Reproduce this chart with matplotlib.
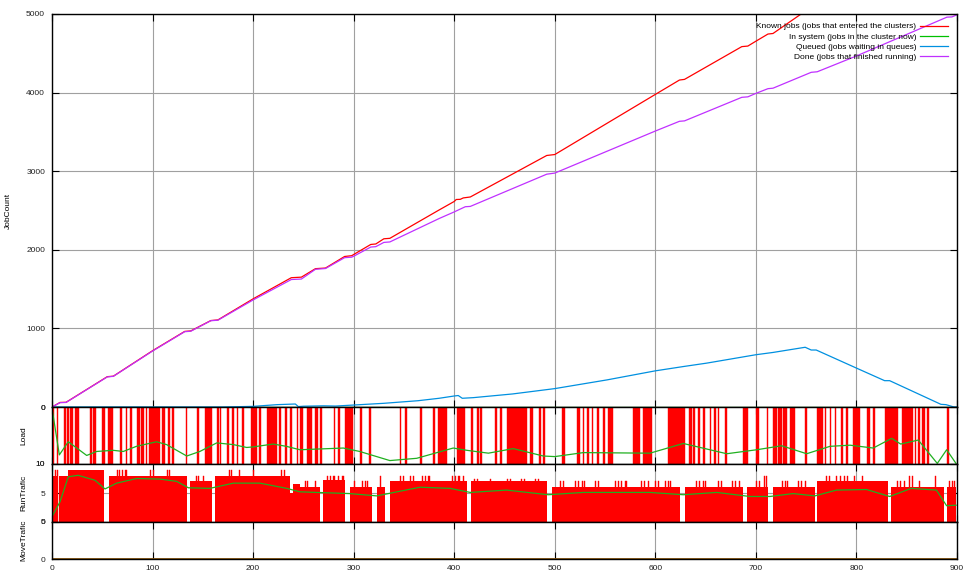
import matplotlib.pyplot as plt

plt.rcParams['font.family'] = ['Liberation Sans', 'DejaVu Sans']
plt.rcParams['font.size'] = 6

# --- job counters (top panel) ---
known_x = [0, 8, 14, 55, 61, 100, 132, 138, 158, 165, 200, 238, 248, 262, 272,
           291, 298, 300, 317, 322, 330, 336, 385, 400, 402, 406, 409, 416, 492,
           500, 600, 624, 629, 686, 692, 700, 712, 717, 745, 900]
known_y = [0, 58, 60, 386, 392, 716, 962, 968, 1100, 1108, 1376, 1645, 1652,
           1760, 1768, 1915, 1925, 1940, 2068, 2074, 2140, 2146, 2507, 2615,
           2640, 2642, 2660, 2672, 3200, 3212, 3977, 4160, 4168, 4585, 4592,
           4654, 4745, 4752, 5000, 6200]

system_x = [0, 900]
system_y = [0, 0]

queued_x = [0, 170, 200, 224, 242, 245, 250, 270, 282, 300, 330, 364, 385, 400,
            404, 408, 419, 458, 500, 552, 600, 628, 651, 700, 717, 749, 755, 760,
            800, 828, 833, 884, 889, 897, 900]
queued_y = [0, 0, 8, 30, 38, 5, 10, 15, 12, 25, 47, 80, 111, 140, 146, 111, 119,
            166, 234, 345, 460, 515, 558, 665, 694, 760, 725, 725, 495, 335, 335,
            34, 30, 0, 0]

done_x = [0, 8, 14, 55, 61, 100, 132, 138, 158, 165, 200, 238, 248, 262, 272,
          291, 298, 300, 317, 322, 330, 336, 385, 400, 411, 416, 492, 500, 600,
          624, 629, 686, 692, 700, 712, 717, 755, 761, 800, 890, 895, 900]
done_y = [0, 55, 58, 383, 390, 712, 958, 964, 1098, 1104, 1362, 1622, 1628,
          1752, 1762, 1900, 1906, 1918, 2035, 2040, 2094, 2100, 2398, 2482,
          2548, 2552, 2962, 2976, 3511, 3635, 3640, 3940, 3946, 3990, 4050,
          4056, 4258, 4265, 4466, 4960, 4963, 4990]

# --- load: intervals with a busy node, plus smoothed load ---
load_spans = [(0, 2), (4.7, 6), (12, 14), (14.6, 16.6), (18, 21), (23, 27),
              (38, 40), (41, 44), (50, 53), (56, 61), (68, 70), (73.5, 75),
              (77.5, 79.5), (84.8, 87.5), (89, 91.5), (93, 94.5), (96, 107.4),
              (109, 112), (115, 117), (119, 121), (133, 134.5), (144, 146),
              (152.5, 158.8), (163.8, 165.8), (167, 168), (173.7, 176.3),
              (179, 181.3), (183.6, 185), (189, 191), (197.6, 203.6),
              (206, 207.5), (213.5, 223.5), (226, 227.5), (231.7, 234),
              (236.7, 238.3), (243.3, 245), (246.6, 249.3), (253.3, 258.2),
              (261.5, 264.8), (267, 269), (280, 281.3), (284, 286),
              (291.4, 299.6), (306.3, 308), (315.2, 317), (346, 347.4),
              (351, 352.7), (366, 368), (379.2, 380.9), (384, 392.5),
              (402.4, 410.7), (416.4, 418.4), (422.5, 424.2), (425.8, 427.5),
              (440.5, 442.2), (445.4, 447.1), (452.2, 472), (475.3, 478.6),
              (484.6, 486), (488.5, 490.2), (506.8, 510.2), (522.4, 525),
              (527.7, 529.4), (531.8, 533.8), (536.8, 538.5), (541.8, 543.5),
              (548.3, 550.3), (553.3, 558.2), (578, 584.7), (588, 596.3),
              (612.9, 629.5), (633, 636), (637.5, 639), (642.3, 644),
              (647.2, 648.9), (653.9, 655.5), (658.8, 660.5), (662, 663.8),
              (669.7, 671.4), (686.8, 692.4), (700, 703.4), (710.6, 712.2),
              (716.6, 720.6), (722.2, 725.5), (727.2, 730.5), (733.9, 738.9),
              (748.8, 750.5), (760.4, 767), (768.4, 770), (773.4, 775),
              (778.4, 780), (785, 786.7), (790, 791.6), (796.9, 803.5),
              (810.8, 813.4), (816, 818.5), (828.3, 841.6), (845, 856.5),
              (858, 859.7), (861, 863.6), (865, 868.4), (870, 871.7),
              (889.7, 892.3)]
load_level = 10

load_avg_x = [0, 7.3, 16.2, 34.5, 44.4, 60.9, 70.9, 84, 104, 114, 134, 147,
              163.8, 180.4, 193.6, 200, 220, 233, 246.6, 289.7, 306, 336,
              362.7, 399, 412.6, 434, 458.7, 488.6, 500, 528.4, 594.7, 627.8,
              671, 700.8, 725.6, 750.5, 773.7, 793.6, 816.7, 835, 844, 861.5,
              880.4, 889.7, 899]
load_avg_y = [0.2, 8.4, 6.1, 8.5, 7.8, 7.6, 7.8, 6.9, 6.1, 6.6, 8.6, 7.8, 6.3,
              6.6, 7.1, 7.0, 6.5, 6.9, 7.5, 7.2, 7.8, 9.4, 9.0, 7.2, 7.6, 8.1,
              7.3, 8.6, 8.7, 8.0, 8.1, 6.4, 8.2, 7.5, 6.8, 8.2, 6.9, 6.7, 7.2,
              5.5, 6.5, 5.8, 9.9, 7.5, 9.9]

# --- run traffic: blocks of running jobs, taller bursts, and average ---
run_blocks = [(0, 6, 7.9), (7, 16, 7.9), (16, 51.7, 8.9), (56.4, 134, 7.9),
              (137.6, 158.8, 7.0), (162, 236.7, 7.9), (236.7, 240, 5.0),
              (240, 246.7, 6.5), (246.7, 266.5, 6.1), (269.5, 291.4, 7.2),
              (296.3, 318, 6.1), (323, 331.5, 6.1), (336, 412.4, 7.0),
              (416.3, 491.9, 7.0), (496.9, 625, 6.1), (629.5, 687.5, 6.1),
              (691.4, 712.3, 6.1), (717.3, 758.7, 6.1), (761, 831.5, 7.0),
              (834, 887, 6.1), (889.7, 899, 6.1)]
run_bursts = [(3, 4, 8.9), (5, 6, 8.9), (64.6, 65.6, 8.9), (67, 68, 8.9),
              (70, 71, 8.9), (73, 74.5, 8.9), (97.5, 98.5, 8.9), (100, 101, 8.9),
              (114, 115, 8.9), (116.6, 117.6, 8.9), (143, 144, 7.9),
              (145, 146, 7.9), (150, 151, 7.9), (176, 177, 8.9), (178, 179, 8.9),
              (186, 187, 8.9), (200, 201, 8.9), (228, 229, 8.9),
              (231, 232, 8.9), (252, 253, 7.0), (254, 255, 7.0), (262, 263, 7.0),
              (273, 274, 7.9), (276, 277, 7.9), (279, 281, 7.9), (284, 285, 7.9),
              (288, 290, 7.9), (300, 301, 7.0), (308, 309, 7.0), (311, 312, 7.0),
              (313, 314, 7.0), (326, 327, 7.9), (346, 347, 7.9), (349, 350, 7.9),
              (356, 357, 7.9), (359, 360, 7.9), (368, 369, 7.9), (371, 372, 7.9),
              (374, 376, 7.9), (398, 399, 7.9), (401, 402, 7.9), (404, 406, 7.9),
              (409, 410, 7.9), (420, 421, 7.4), (423, 424, 7.4), (436, 437, 7.4),
              (452, 453, 7.4), (455, 456, 7.4), (466, 467, 7.4), (469, 470, 7.4),
              (480, 481, 7.4), (483, 484, 7.4), (505, 506, 7.0), (508, 509, 7.0),
              (520, 521, 7.0), (523, 524, 7.0), (527, 528, 7.0), (529, 530, 7.0),
              (540, 541, 7.0), (543, 544, 7.0), (560, 561, 7.0), (563, 564, 7.0),
              (566, 567, 7.0), (570, 572, 7.0), (586, 587, 7.0), (589, 590, 7.0),
              (593, 594, 7.0), (600, 601, 7.0), (603, 604, 7.0), (610, 611, 7.0),
              (613, 614, 7.0), (615, 616, 7.0), (640, 641, 7.0), (643, 644, 7.0),
              (647, 648, 7.0), (649, 650, 7.0), (662, 663, 7.0), (665, 666, 7.0),
              (676, 677, 7.0), (679, 680, 7.0), (683, 684, 7.0), (700, 701, 7.0),
              (703, 704, 7.0), (708, 709, 7.9), (710, 711, 7.9), (726, 727, 7.0),
              (729, 730, 7.0), (731, 732, 7.0), (742, 743, 7.0), (745, 746, 7.0),
              (749, 750, 7.0), (770, 771, 7.9), (773, 774, 7.9), (780, 781, 7.9),
              (784, 785, 7.9), (788, 789, 7.9), (791, 792, 7.9), (798, 799, 7.9),
              (806, 807, 7.9), (840, 841, 7.0), (843, 844, 7.0), (847, 848, 7.0),
              (852, 853, 7.9), (855, 856, 7.9), (862, 863, 7.0), (878, 879, 7.9),
              (892, 893, 7.0), (895, 896, 7.0), (897, 898, 7.0)]

run_avg_x = [0, 8, 16.2, 26, 42.7, 52.7, 64.3, 84.2, 107.4, 124, 135.6, 157,
             180.4, 206.8, 233.4, 246.6, 296, 323, 366, 395.7, 416, 452, 493.5,
             528.4, 594.7, 627.8, 661, 694, 714, 737, 758.7, 780, 810, 833,
             854.6, 879.5, 889.7, 899]
run_avg_y = [0.9, 3.5, 7.8, 8.05, 7.2, 5.7, 6.7, 7.5, 7.4, 7.0, 5.9, 5.8, 6.7,
             6.7, 5.8, 5.2, 4.9, 4.5, 6.0, 5.8, 5.1, 5.5, 4.7, 5.1, 5.1, 4.7,
             5.1, 4.4, 4.4, 4.9, 4.5, 5.5, 5.6, 4.4, 5.8, 5.5, 2.8, 2.9]

# --- move traffic stays flat ---
move_x = [0, 900]
move_y = [0, 0]

xticks = list(range(0, 901, 100))

fig = plt.figure(figsize=(9.69, 5.76), dpi=100)
left, width = 52 / 969, 905 / 969
ax_main = fig.add_axes([left, 1 - 407 / 576, width, 393 / 576])
ax_load = fig.add_axes([left, 1 - 464 / 576, width, 57 / 576])
ax_run = fig.add_axes([left, 1 - 522 / 576, width, 58 / 576])
ax_move = fig.add_axes([left, 1 - 559 / 576, width, 37 / 576])

for ax in (ax_main, ax_load, ax_run, ax_move):
    ax.set_xlim(0, 900)
    ax.set_xticks(xticks)
    ax.grid(True, color='#a0a0a0', lw=0.8)
    ax.set_axisbelow(True)
    ax.tick_params(direction='in', top=True, right=True, length=5, width=0.8,
                   labelsize=6, pad=5, colors='black', labelcolor='#222222')
    ax.tick_params(axis='x', labelbottom=False)
    for s in ax.spines.values():
        s.set_linewidth(1.0)

ax_main.plot(known_x, known_y, color='#ff0000', lw=0.9,
             label='Known jobs (jobs that entered the clusters)')
ax_main.plot(system_x, system_y, color='#00c000', lw=0.9,
             label='In system (jobs in the cluster now)')
ax_main.plot(queued_x, queued_y, color='#0090e0', lw=0.9,
             label='Queued (jobs waiting in queues)')
ax_main.plot(done_x, done_y, color='#c030ff', lw=0.9,
             label='Done (jobs that finished running)')
ax_main.set_ylim(0, 5000)
ax_main.set_yticks(range(0, 5001, 1000))
ax_main.set_ylabel('JobCount', fontsize=6)
ax_main.yaxis.set_label_coords(-0.044, 0.5)
ax_main.legend(loc='upper right', bbox_to_anchor=(0.99, 0.978), frameon=False,
               markerfirst=False, fontsize=6, handlelength=3.3,
               handletextpad=0.5, labelspacing=0.28, borderpad=0,
               borderaxespad=0)

# load panel (axis runs downwards)
ax_load.bar([a for a, b in load_spans], load_level,
            width=[b - a for a, b in load_spans], align='edge',
            color='#ff0000', ec='#ff0000', lw=0.3)
ax_load.plot(load_avg_x, load_avg_y, color='#20b020', lw=0.9)
ax_load.set_ylim(10, 0)
ax_load.set_yticks([0, 10])
ax_load.set_ylabel('Load', fontsize=6)
ax_load.yaxis.set_label_coords(-0.0276, 0.5)

ax_run.bar([a for a, b, h in run_blocks], [h for a, b, h in run_blocks],
           width=[b - a for a, b, h in run_blocks], align='edge',
           color='#ff0000', lw=0)
ax_run.bar([a for a, b, h in run_bursts], [h for a, b, h in run_bursts],
           width=[b - a for a, b, h in run_bursts], align='edge',
           color='#ff0000', ec='#ff0000', lw=0.3)
ax_run.plot(run_avg_x, run_avg_y, color='#20b020', lw=0.9)
ax_run.set_ylim(0, 10)
ax_run.set_yticks([0, 5, 10])
ax_run.set_ylabel('RunTrafic', fontsize=6)
ax_run.yaxis.set_label_coords(-0.0276, 0.5)

ax_move.plot(move_x, move_y, color='#ff0000', lw=1.2)
ax_move.plot(move_x, move_y, color='#20b020', lw=1.2, alpha=0.55)
ax_move.set_ylim(0, 5)
ax_move.set_yticks([0, 5])
ax_move.set_ylabel('MoveTrafic', fontsize=6)
ax_move.yaxis.set_label_coords(-0.0276, 0.5)
ax_move.tick_params(axis='x', labelbottom=True, pad=4)

fig.savefig('out.png', dpi=100)
